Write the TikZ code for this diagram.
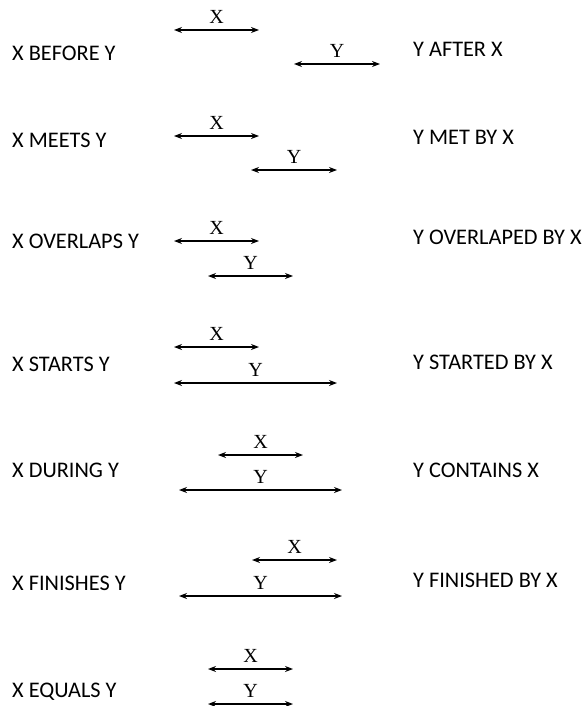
\documentclass[tikz,border=0pt]{standalone}
\usepackage{fontspec}
\setmainfont{Carlito}
\newfontfamily\serifxy{Liberation Serif}
\usetikzlibrary{arrows.meta}
\begin{document}
\begin{tikzpicture}[x=1pt,y=-1pt,
  rel/.style={anchor=base west,inner sep=0pt,font=\fontsize{22.3}{25}\selectfont},
  ivl/.style={{Stealth[length=8pt,width=6pt]}-{Stealth[length=8pt,width=6pt]},line width=1.3pt},
  lbl/.style={above,inner sep=0pt,yshift=5.5pt,font=\serifxy\fontsize{20}{22}\selectfont}]
\useasboundingbox (0,0) rectangle (586,706);
% Row 1
\node[rel] (l1) at (12,61) {X BEFORE Y};
\node[rel] (r1) at (413,57) {Y AFTER X};
\coordinate (a1) at (174,30); \coordinate (b1) at (259,30);
\coordinate (c1) at (294,64); \coordinate (d1) at (380,64);
\draw[ivl] (a1) -- node[lbl] {X} (b1);
\draw[ivl] (c1) -- node[lbl] {Y} (d1);
% Row 2
\node[rel] (l2) at (12,147) {X MEETS Y};
\node[rel] (r2) at (413,144) {Y MET BY X};
\coordinate (a2) at (174,136); \coordinate (b2) at (259,136);
\coordinate (c2) at (251,170); \coordinate (d2) at (337,170);
\draw[ivl] (a2) -- node[lbl] {X} (b2);
\draw[ivl] (c2) -- node[lbl] {Y} (d2);
% Row 3
\node[rel] (l3) at (12,248) {X OVERLAPS Y};
\node[rel] (r3) at (413,244) {Y OVERLAPED BY X};
\coordinate (a3) at (174,241); \coordinate (b3) at (259,241);
\coordinate (c3) at (208,276); \coordinate (d3) at (293,276);
\draw[ivl] (a3) -- node[lbl] {X} (b3);
\draw[ivl] (c3) -- node[lbl] {Y} (d3);
% Row 4
\node[rel] (l4) at (12,371) {X STARTS Y};
\node[rel] (r4) at (413,369) {Y STARTED BY X};
\coordinate (a4) at (174,347); \coordinate (b4) at (259,347);
\coordinate (c4) at (174,383); \coordinate (d4) at (337,383);
\draw[ivl] (a4) -- node[lbl] {X} (b4);
\draw[ivl] (c4) -- node[lbl] {Y} (d4);
% Row 5
\node[rel] (l5) at (12,477) {X DURING Y};
\node[rel] (r5) at (413,477) {Y CONTAINS X};
\coordinate (a5) at (218,455); \coordinate (b5) at (303,455);
\coordinate (c5) at (179,490); \coordinate (d5) at (342,490);
\draw[ivl] (a5) -- node[lbl] {X} (b5);
\draw[ivl] (c5) -- node[lbl] {Y} (d5);
% Row 6
\node[rel] (l6) at (12,590) {X FINISHES Y};
\node[rel] (r6) at (413,587) {Y FINISHED BY X};
\coordinate (a6) at (252,560); \coordinate (b6) at (337,560);
\coordinate (c6) at (179,596); \coordinate (d6) at (342,596);
\draw[ivl] (a6) -- node[lbl] {X} (b6);
\draw[ivl] (c6) -- node[lbl] {Y} (d6);
% Row 7
\node[rel] (l7) at (12,697) {X EQUALS Y};
\coordinate (a7) at (208,669); \coordinate (b7) at (293,669);
\coordinate (c7) at (208,704); \coordinate (d7) at (293,704);
\draw[ivl] (a7) -- node[lbl] {X} (b7);
\draw[ivl] (c7) -- node[lbl] {Y} (d7);
\end{tikzpicture}
\end{document}
